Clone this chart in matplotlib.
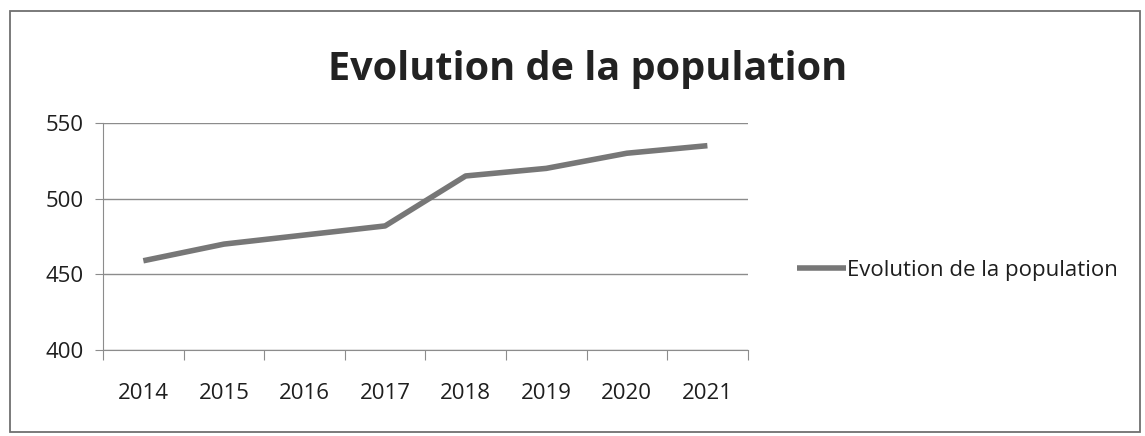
import matplotlib.pyplot as plt
from matplotlib.patches import Rectangle

# Données
annees = ["2014", "2015", "2016", "2017", "2018", "2019", "2020", "2021"]
population = [459, 470, 476, 482, 515, 520, 530, 535]
titre = "Evolution de la population"

plt.rcParams["font.family"] = ["Open Sans", "DejaVu Sans"]
plt.rcParams["text.color"] = "#1e1e1e"
plt.rcParams["xtick.labelcolor"] = "#1e1e1e"
plt.rcParams["ytick.labelcolor"] = "#1e1e1e"

fig = plt.figure(figsize=(11.45, 4.36), dpi=100)
ax = fig.add_axes([0.09, 0.197, 0.563, 0.521])

x = list(range(len(annees)))
ax.plot(x, population, color="#777777", linewidth=4, solid_capstyle="butt",
        label=titre)

ax.set_xlim(-0.5, len(annees) - 0.5)
ax.set_ylim(400, 550)
ax.set_yticks([400, 450, 500, 550])
ax.yaxis.grid(True, color="#8c8c8c", linewidth=1)
ax.set_axisbelow(True)

# ticks x entre les catégories, labels au centre
ax.set_xticks([i - 0.5 for i in range(len(annees) + 1)])
ax.set_xticklabels([])
ax.set_xticks(x, minor=True)
ax.set_xticklabels(annees, minor=True)
ax.tick_params(axis="x", which="minor", length=0, pad=24, labelsize=16)
ax.tick_params(axis="x", which="major", length=7, color="#8c8c8c", direction="out")
ax.tick_params(axis="y", length=6, color="#8c8c8c", labelsize=16, pad=8)

for s in ["top", "right"]:
    ax.spines[s].set_visible(False)
for s in ["left", "bottom"]:
    ax.spines[s].set_color("#8c8c8c")

fig.text(0.513, 0.84, titre, ha="center", va="center", fontsize=28.5,
         fontweight="bold", color="#222222")

ax.legend(loc="center left", bbox_to_anchor=(1.045, 0.35), frameon=False,
          handlelength=2.2, handletextpad=0.05, fontsize=16)

# cadre du graphique
fig.patches.append(Rectangle((10 / 1145, 4 / 436), 1130 / 1145, 421 / 436,
                             transform=fig.transFigure, fill=False,
                             edgecolor="#707070", linewidth=1.3))

fig.savefig("out.png", dpi=100)
